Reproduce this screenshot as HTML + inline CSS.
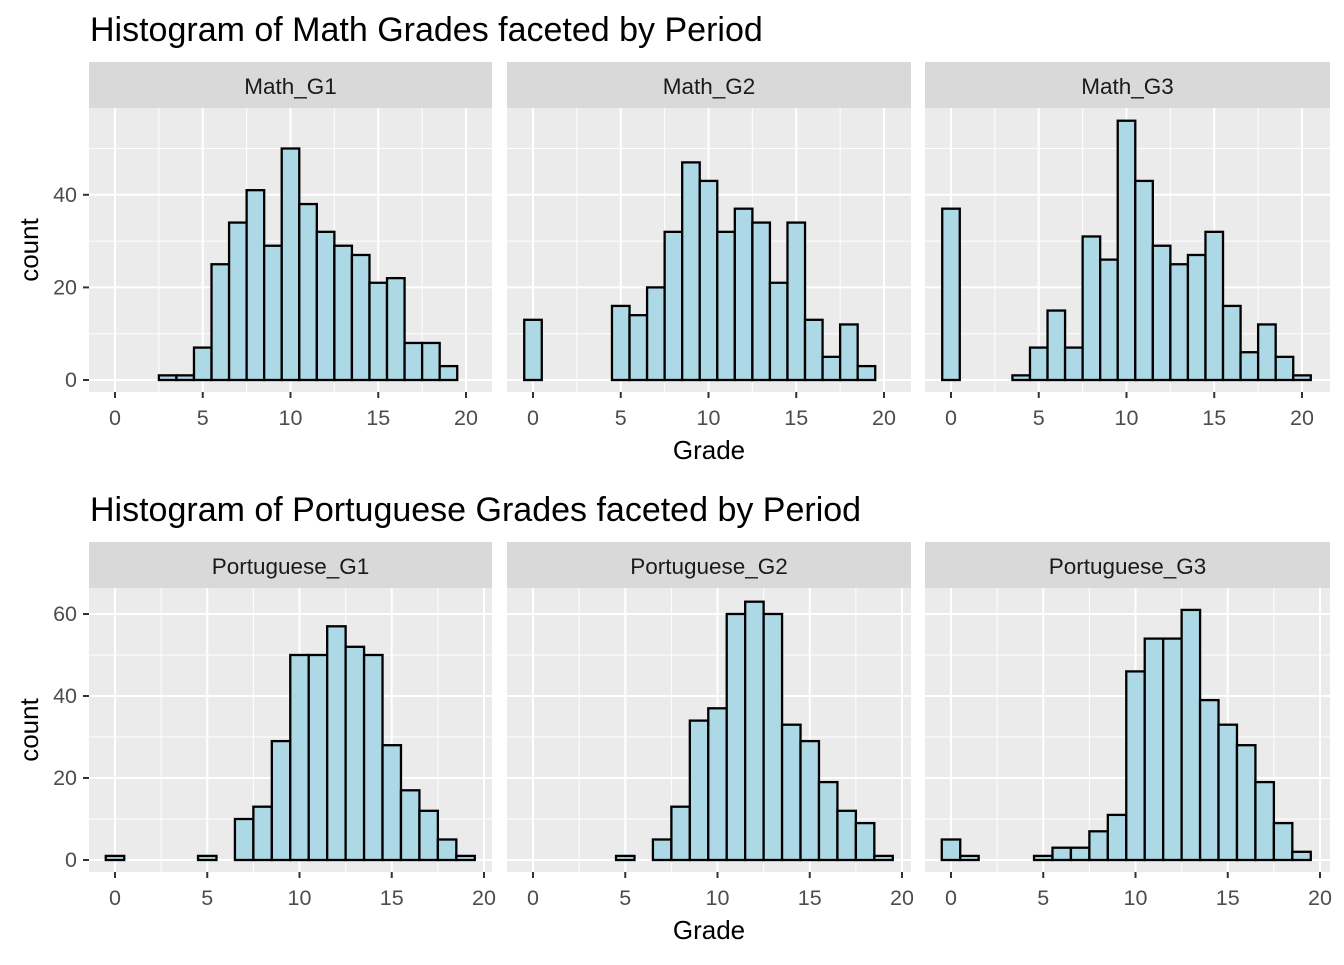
<!DOCTYPE html>
<html><head><meta charset="utf-8"><style>
body{margin:0;background:#fff;width:1344px;height:960px;overflow:hidden}
svg{font-family:"Liberation Sans",Arial,sans-serif}
</style></head><body>
<svg id="c" width="1344" height="960"></svg>
<script>
const grades = [0,1,2,3,4,5,6,7,8,9,10,11,12,13,14,15,16,17,18,19,20];
const mathG1 = [0,0,0,1,1,7,25,34,41,29,50,38,32,29,27,21,22,8,8,3,0];
const mathG2 = [13,0,0,0,0,16,14,20,32,47,43,32,37,34,21,34,13,5,12,3,0];
const mathG3 = [37,0,0,0,1,7,15,7,31,26,56,43,29,25,27,32,16,6,12,5,1];
const porG1 = [1,0,0,0,0,1,0,10,13,29,50,50,57,52,50,28,17,12,5,1,0];
const porG2 = [0,0,0,0,0,1,0,5,13,34,37,60,63,60,33,29,19,12,9,1,0];
const porG3 = [5,1,0,0,0,1,3,3,7,11,46,54,54,61,39,33,28,19,9,2,0];
const xTicks = [0,5,10,15,20];
const mathYTicks = [0,20,40];
const porYTicks = [0,20,40,60];
const mathLabels = ["Math_G1","Math_G2","Math_G3"];
const porLabels = ["Portuguese_G1","Portuguese_G2","Portuguese_G3"];

const svg = document.getElementById('c');
const NS = 'http://www.w3.org/2000/svg';
function mk(tag, at, parent){const e=document.createElementNS(NS,tag);for(const k in at)e.setAttribute(k,at[k]);(parent||svg).appendChild(e);return e;}

const panelX = [[89,492],[507,911],[925,1330]];

function drawRow(cfg){
  const {title,titleY,stripTop,top,bottom,y0,ySlope,yTicks,yMinor,xPx,series,labels,gradeY,rowName} = cfg;
  const t = mk('text',{x:90,y:titleY,'font-size':34,fill:'#000'});
  t.textContent = title;
  
  
  const yS = v => y0 - v*ySlope;
  for(let p=0;p<3;p++){
    const [L,R] = panelX[p];
    const x0 = L + 26, xs = xPx;
    const xS = v => x0 + v*xs;
    const g = mk('g',{});
    
    
    mk('rect',{x:L,y:stripTop,width:R-L,height:top-stripTop,fill:'#d9d9d9'},g);
    const st = mk('text',{x:(L+R)/2,y:stripTop+32,'font-size':22.5,fill:'#1a1a1a','text-anchor':'middle'},g);
    st.textContent = labels[p];
    
    
    mk('rect',{x:L,y:top,width:R-L,height:bottom-top,fill:'#ebebeb'},g);
    yMinor.forEach(v=>mk('line',{x1:L,x2:R,y1:yS(v),y2:yS(v),stroke:'#fff','stroke-width':1},g));
    xTicks.slice(0,-1).forEach(v=>mk('line',{x1:xS(v+2.5),x2:xS(v+2.5),y1:top,y2:bottom,stroke:'#fff','stroke-width':1},g));
    yTicks.forEach(v=>mk('line',{x1:L,x2:R,y1:yS(v),y2:yS(v),stroke:'#fff','stroke-width':2},g));
    xTicks.forEach(v=>{
      mk('line',{x1:xS(v),x2:xS(v),y1:top,y2:bottom,stroke:'#fff','stroke-width':2},g);
      mk('line',{x1:xS(v),x2:xS(v),y1:bottom,y2:bottom+6,stroke:'#333','stroke-width':2},g);
      const tl = mk('text',{x:xS(v),y:bottom+33,'font-size':21.5,fill:'#4d4d4d','text-anchor':'middle'},g);
      tl.textContent = v;
      
      
    });
    const data = series[p];
    grades.forEach((gv,i)=>{
      const c = data[i];
      if(!c) return;
      const r = mk('rect',{x:xS(gv-0.5),y:yS(c),width:xs,height:c*ySlope,fill:'#add8e6',stroke:'#000','stroke-width':2.3},g);
      
      
    });
    if(p===0){
      yTicks.forEach(v=>{
        mk('line',{x1:L-6,x2:L,y1:yS(v),y2:yS(v),stroke:'#333','stroke-width':2},g);
        const yl = mk('text',{x:L-12,y:yS(v)+7,'font-size':21.5,fill:'#4d4d4d','text-anchor':'end'},g);
        yl.textContent = v;
        
        
      });
    }
  }
  const yt = mk('text',{x:0,y:0,'font-size':26,fill:'#000','text-anchor':'middle',transform:`translate(38,${(top+bottom)/2}) rotate(-90)`});
  yt.textContent='count';
  
  
  const xt = mk('text',{x:709,y:gradeY,'font-size':26,fill:'#000','text-anchor':'middle'});
  xt.textContent='Grade';
  
  
}

drawRow({title:'Histogram of Math Grades faceted by Period',titleY:41,stripTop:62,top:108,bottom:392,
  y0:380,ySlope:4.63,yTicks:mathYTicks,yMinor:[10,30,50],xPx:17.55,series:[mathG1,mathG2,mathG3],
  labels:mathLabels,gradeY:459,rowName:'math'});
drawRow({title:'Histogram of Portuguese Grades faceted by Period',titleY:521,stripTop:542,top:588,bottom:872,
  y0:860,ySlope:4.1,yTicks:porYTicks,yMinor:[10,30,50],xPx:18.45,series:[porG1,porG2,porG3],
  labels:porLabels,gradeY:939,rowName:'portuguese'});
</script>
</body></html>
